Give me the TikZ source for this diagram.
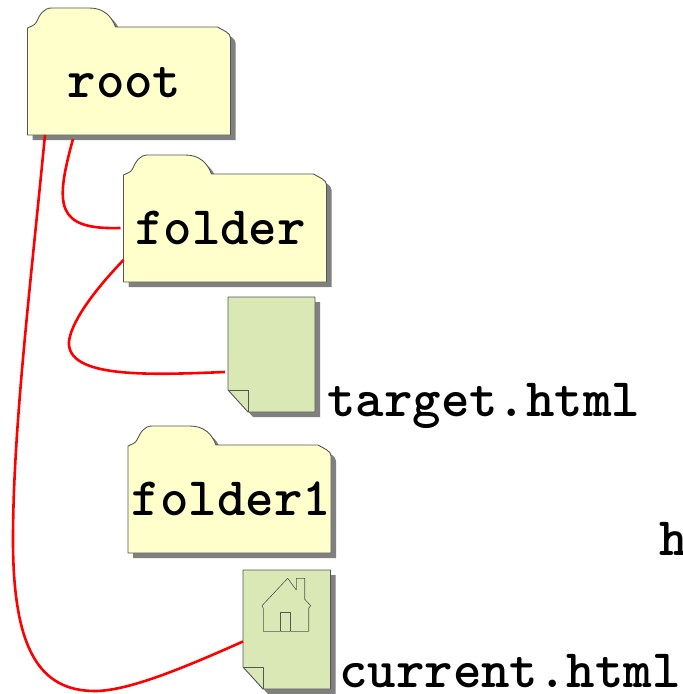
\documentclass[tikz,border=0pt]{standalone}
\usepackage{fontspec}
\usepackage{tikz}
\usetikzlibrary{positioning,calc}
\definecolor{folderfill}{HTML}{FFFFCC}
\definecolor{pagefill}{HTML}{D9E8B4}
\definecolor{shapeline}{HTML}{555555}
\definecolor{shadowgray}{HTML}{808080}
\tikzset{
  outline/.style={draw=shapeline, line width=0.9pt, line join=round},
  dropshadow/.style={fill=shadowgray, shift={(5,5)}},
  bodynode/.style={inner sep=0pt, outer sep=0pt},
  codetext/.style={inner sep=0pt, font=\ttfamily\bfseries\fontsize{54.2}{54}\selectfont},
  link/.style={draw=red, line width=2.6pt}
}
% folder outline, local origin at the top left of the tab
\newcommand{\folderpath}{
  (0,20) -- (0,127) -- (203,127) -- (203,30)
  .. controls (203,25) and (197,23) .. (190,19)
  -- (88,19) .. controls (84,8) and (76,0) .. (62,0)
  -- (24,0) .. controls (16,0) and (12,7) .. (9,14)
  .. controls (7,18) and (3,18) .. (0,20) -- cycle
}
% name, x, y, text, text x, text baseline
\newcommand{\folderat}[6]{
  \begin{scope}[shift={(#2,#3)}]
    \fill[dropshadow] \folderpath;
    \path[outline, fill=folderfill] \folderpath;
    \node (#1) [bodynode, minimum width=203pt, minimum height=108pt] at (101.5,73) {};
    \node (#1text) [codetext, anchor=base] at (#5,#6) {#4};
  \end{scope}
}
% name, x, y, width, height
\newcommand{\pageat}[5]{
  \begin{scope}[shift={(#2,#3)}]
    \fill[dropshadow] (0,0) -- (#4,0) -- (#4,#5) -- (20,#5) -- (0,#5-22) -- cycle;
    \path[outline, fill=pagefill] (0,0) -- (#4,0) -- (#4,#5) -- (20,#5) -- (0,#5-22) -- cycle;
    \draw[outline] (0,#5-22) -- (20,#5-22) -- (20,#5);
    \node (#1) [bodynode, minimum width=#4 pt, minimum height=#5 pt] at (#4/2,#5/2) {};
  \end{scope}
}

\begin{document}
\begin{tikzpicture}[x=1pt, y=-1pt]
    \useasboundingbox (0,0) rectangle (683,694);

    % Folders
    \folderat{root}{27.5}{8}{root}{97}{89.5}
    \folderat{folder}{123.5}{155}{folder}{97}{89}
    \folderat{folderone}{128}{426}{folder1}{103.5}{89}

    % Pages
    \pageat{target}{228}{297}{87}{115}
    \pageat{current}{243}{570}{87.5}{119}

    % Page names
    \node (targetname) [codetext, anchor=base west] at (327,416.5) {target.html};
    \node (currentname) [codetext, anchor=base west] at (339,687) {current.html};
    \node (hname) [codetext, anchor=base west] at (659,555) {h};

    % House on the current page
    \draw[draw=shapeline, line width=0.6pt, line join=round]
      (263.3,631.3) -- (263.3,608.3) -- (262,605.7) -- (287.7,578.3) -- (296.3,590)
      -- (296.3,578.3) -- (304.7,578.3) -- (304.7,599.3) -- (310.7,605.7)
      -- (308.7,608) -- (308.7,631.3) -- cycle;
    \draw[draw=shapeline, line width=0.6pt]
      (280.3,631.3) -- (280.3,612.3) -- (290.3,612.3) -- (290.3,631.3);

    % Links
    \draw[link] ([xshift=45.5pt, yshift=-4pt]root.south west)
      .. controls (55,205) and (55,230) .. ([xshift=-3pt]folder.west);
    \draw[link] ([yshift=-32pt]folder.west)
      .. controls (85,300) and (68,330) .. (69,345)
      .. controls (72,378) and (150,375) .. ([xshift=-3pt, yshift=-17.5pt]target.west);
    \draw[link] ([xshift=17.5pt]root.south west)
      .. controls (30,290) and (13,430) .. (13,540)
      .. controls (13,650) and (40,691) .. (95,691)
      .. controls (130,691) and (190,665) .. ([yshift=-12pt]current.west);
\end{tikzpicture}
\end{document}
